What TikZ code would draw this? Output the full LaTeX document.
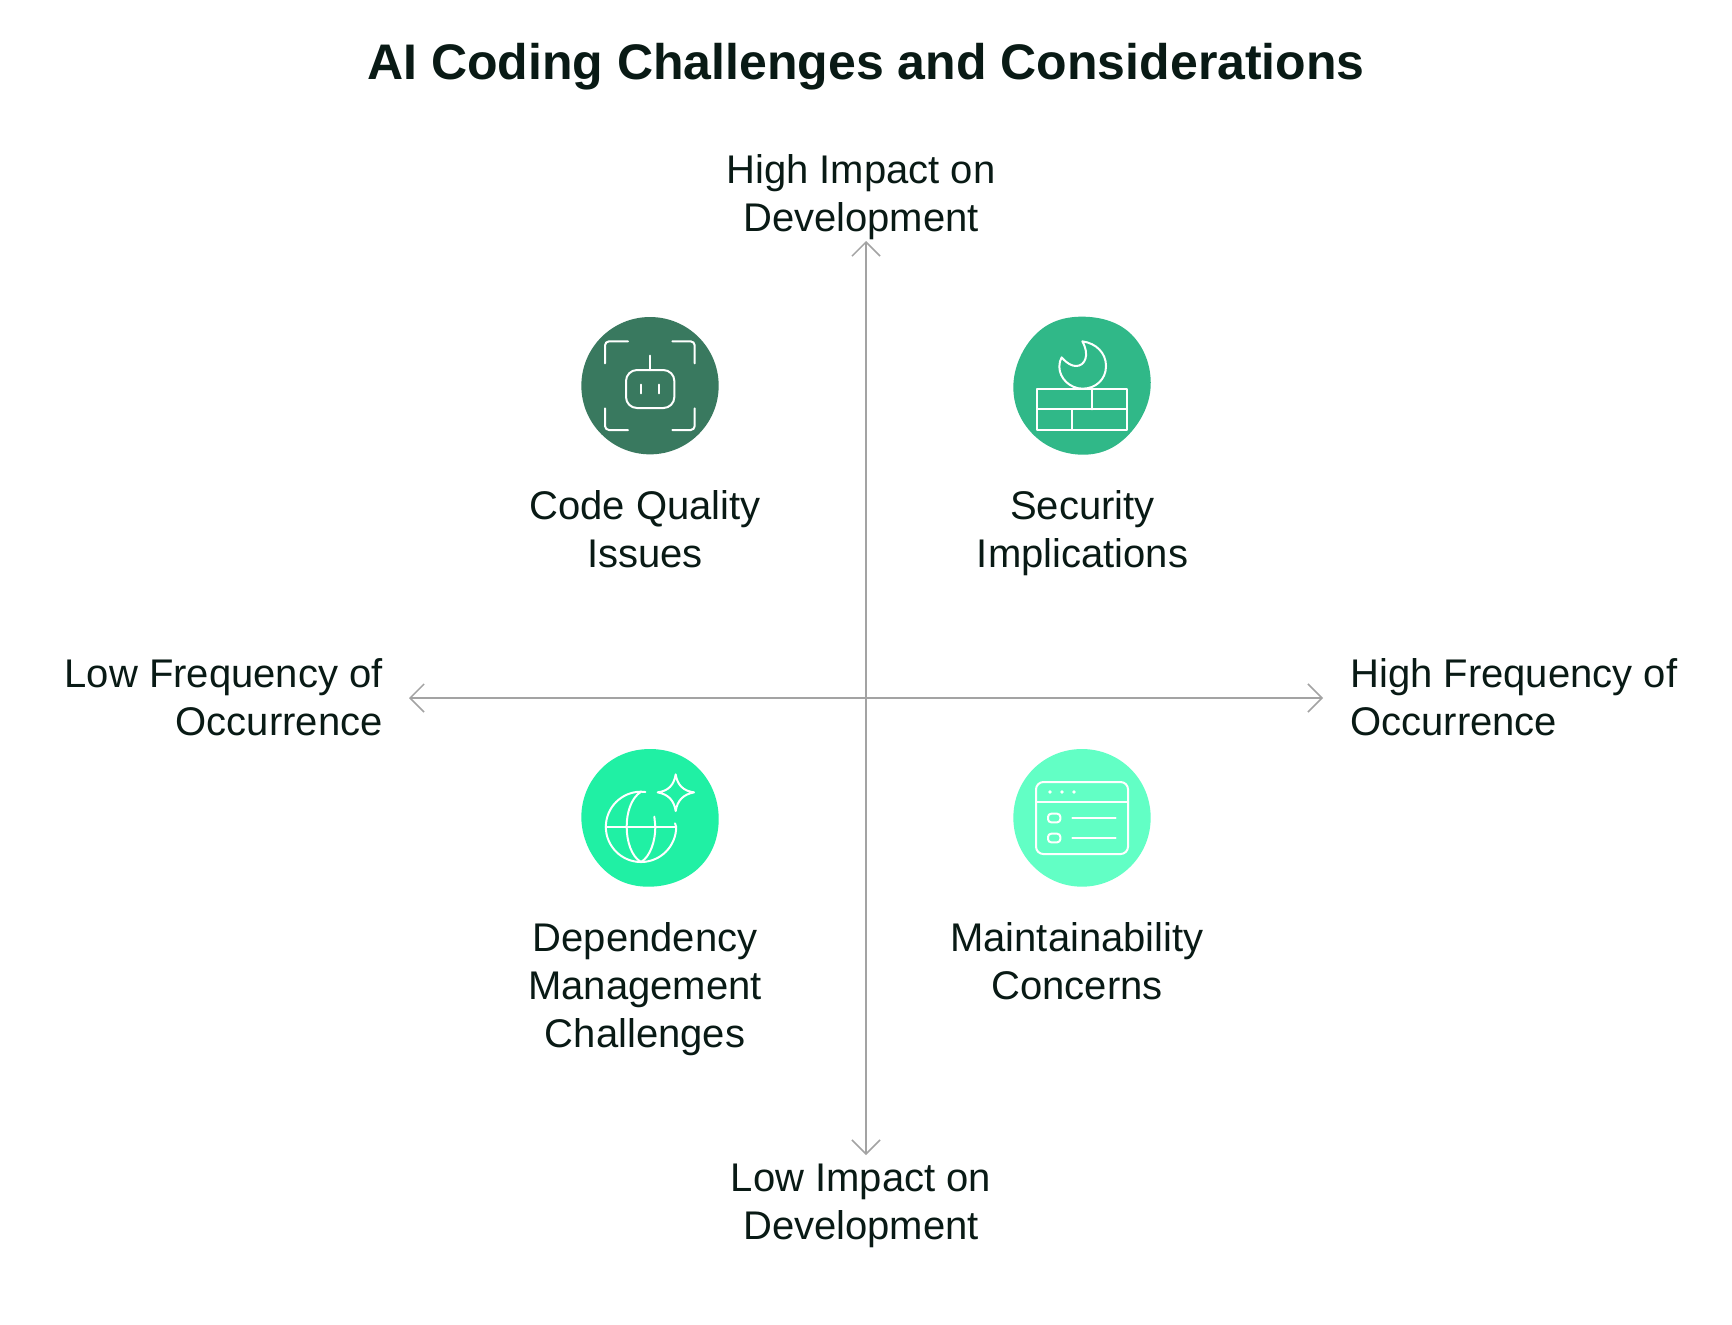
\documentclass[tikz,border=0pt]{standalone}
\usepackage{fontspec}
\setmainfont{Liberation Sans}
\usetikzlibrary{arrows.meta}
\definecolor{ink}{HTML}{091A15}
\definecolor{axisc}{HTML}{A3A3A3}
\definecolor{blobA}{HTML}{39795F}
\definecolor{blobB}{HTML}{30B888}
\definecolor{blobC}{HTML}{20F0A4}
\definecolor{blobD}{HTML}{62FFC5}
\tikzset{
  lab/.style={font=\fontsize{20}{24}\selectfont, text=ink, align=center, inner sep=0pt},
  titlelab/.style={font=\fontsize{25}{29}\selectfont\bfseries, text=ink, inner sep=0pt},
  axisline/.style={draw=axisc, line width=0.75pt, {Straight Barb[length=7pt,width=14pt,line width=0.75pt]}-{Straight Barb[length=7pt,width=14pt,line width=0.75pt]}},
  iconline/.style={draw=white, line width=1pt, line cap=round, line join=round},
  iconbox/.style={shift={#1}, x=0.16667pt, y=-0.16667pt},
  blobcurve/.style={smooth cycle, tension=0.68}
}
\begin{document}
\begin{tikzpicture}[x=0.5pt,y=-0.5pt]
\fill[white] (0,0) rectangle (1732,1324);
\useasboundingbox (0,0) rectangle (1732,1324);

\node[titlelab] (title) at (866,66.5) {AI Coding Challenges and Considerations};

% axes
\coordinate (top) at (866,241);
\coordinate (bottom) at (866,1155);
\coordinate (left) at (409,698);
\coordinate (right) at (1323,698);
\draw[axisline] (top) -- (bottom);
\draw[axisline] (left) -- (right);

% axis labels
\node[lab] (hi) at (861,197) {High Impact on\\Development};
\node[lab] (li) at (861,1205.5) {Low Impact on\\Development};
\node[lab, align=right, anchor=east] (lf) at (383,697) {Low Frequency of\\Occurrence};
\node[lab, align=left, anchor=west] (hf) at (1350,697) {High Frequency of\\Occurrence};

% item labels
\node[lab] (cq) at (645,529) {Code Quality\\Issues};
\node[lab] (si) at (1082.5,533) {Security\\Implications};
\node[lab] (dm) at (645,989) {Dependency\\Management\\Challenges};
\node[lab] (mc) at (1077,961.5) {Maintainability\\Concerns};

% icon 1: robot
\begin{scope}[iconbox={(560,300)}]
  \fill[blobA] (270,257) circle (206);
  \draw[iconline, rounded corners=2pt] (135,190) -- (135,124) -- (204,124);
  \draw[iconline, rounded corners=2pt] (337,124) -- (404,124) -- (404,190);
  \draw[iconline, rounded corners=2pt] (135,325) -- (135,390) -- (204,390);
  \draw[iconline, rounded corners=2pt] (337,390) -- (404,390) -- (404,325);
  \draw[iconline, rounded corners=5.5pt] (198,210) rectangle (343,324);
  \draw[iconline] (270,167) -- (270,210);
  \draw[iconline] (244,254) -- (244,280);
  \draw[iconline] (296,254) -- (296,280);
\end{scope}

% icon 2: firewall
\begin{scope}[iconbox={(1000,300)}]
  \fill[blobB] plot[blobcurve] coordinates {(246,50) (395,104) (452,258) (382,408) (246,464) (100,404) (40,258) (106,104)};
  \draw[iconline] (111,268) rectangle (381,389);
  \draw[iconline] (111,328) -- (381,328);
  \draw[iconline] (277,268) -- (277,328);
  \draw[iconline] (215,328) -- (215,389);
  \draw[iconline] (185,172) .. controls (200,190) and (215,198) .. (228,198)
     .. controls (255,198) and (270,165) .. (247,124)
     .. controls (290,130) and (318,160) .. (318,198)
     .. controls (318,240) and (285,266) .. (248,266)
     .. controls (210,266) and (178,235) .. (178,200)
     .. controls (178,190) and (180,180) .. (185,172) -- cycle;
\end{scope}

% icon 3: globe with star
\begin{scope}[iconbox={(560,735)}]
  \fill[blobC] plot[blobcurve] coordinates {(270,42) (415,100) (476,248) (420,395) (270,455) (128,400) (64,248) (125,100)};
  \draw[iconline] (256,171) -- (243,170) arc[start angle=-90,end angle=-360,radius=105.5] -- (345,265);
  \draw[iconline] (137,275) -- (348,275);
  \draw[iconline] (243,170) .. controls (212,190) and (200,235) .. (200,275)
     .. controls (200,320) and (215,365) .. (243,381);
  \draw[iconline] (243,381) .. controls (270,365) and (286,320) .. (286,275) -- (283,245);
  \draw[iconline] (347,118) .. controls (352,150) and (370,168) .. (402,172)
     .. controls (370,178) and (352,196) .. (347,228)
     .. controls (342,196) and (325,178) .. (293,172)
     .. controls (325,168) and (342,150) .. (347,118) -- cycle;
\end{scope}

% icon 4: window
\begin{scope}[iconbox={(1000,735)}]
  \fill[blobD] plot[blobcurve] coordinates {(246,42) (392,102) (452,248) (392,394) (246,455) (100,394) (40,248) (100,102)};
  \draw[iconline, rounded corners=3.7pt] (108,141) rectangle (384,357);
  \draw[iconline] (108,200) -- (384,200);
  \fill[white] (150,171) circle (5.5) (186,171) circle (5.5) (222,171) circle (5.5);
  \draw[iconline, rounded corners=1.6pt] (144,236) rectangle (181,262);
  \draw[iconline, rounded corners=1.6pt] (144,296) rectangle (181,322);
  \draw[iconline] (217,248) -- (347,248);
  \draw[iconline] (217,309) -- (347,309);
\end{scope}
\end{tikzpicture}
\end{document}
